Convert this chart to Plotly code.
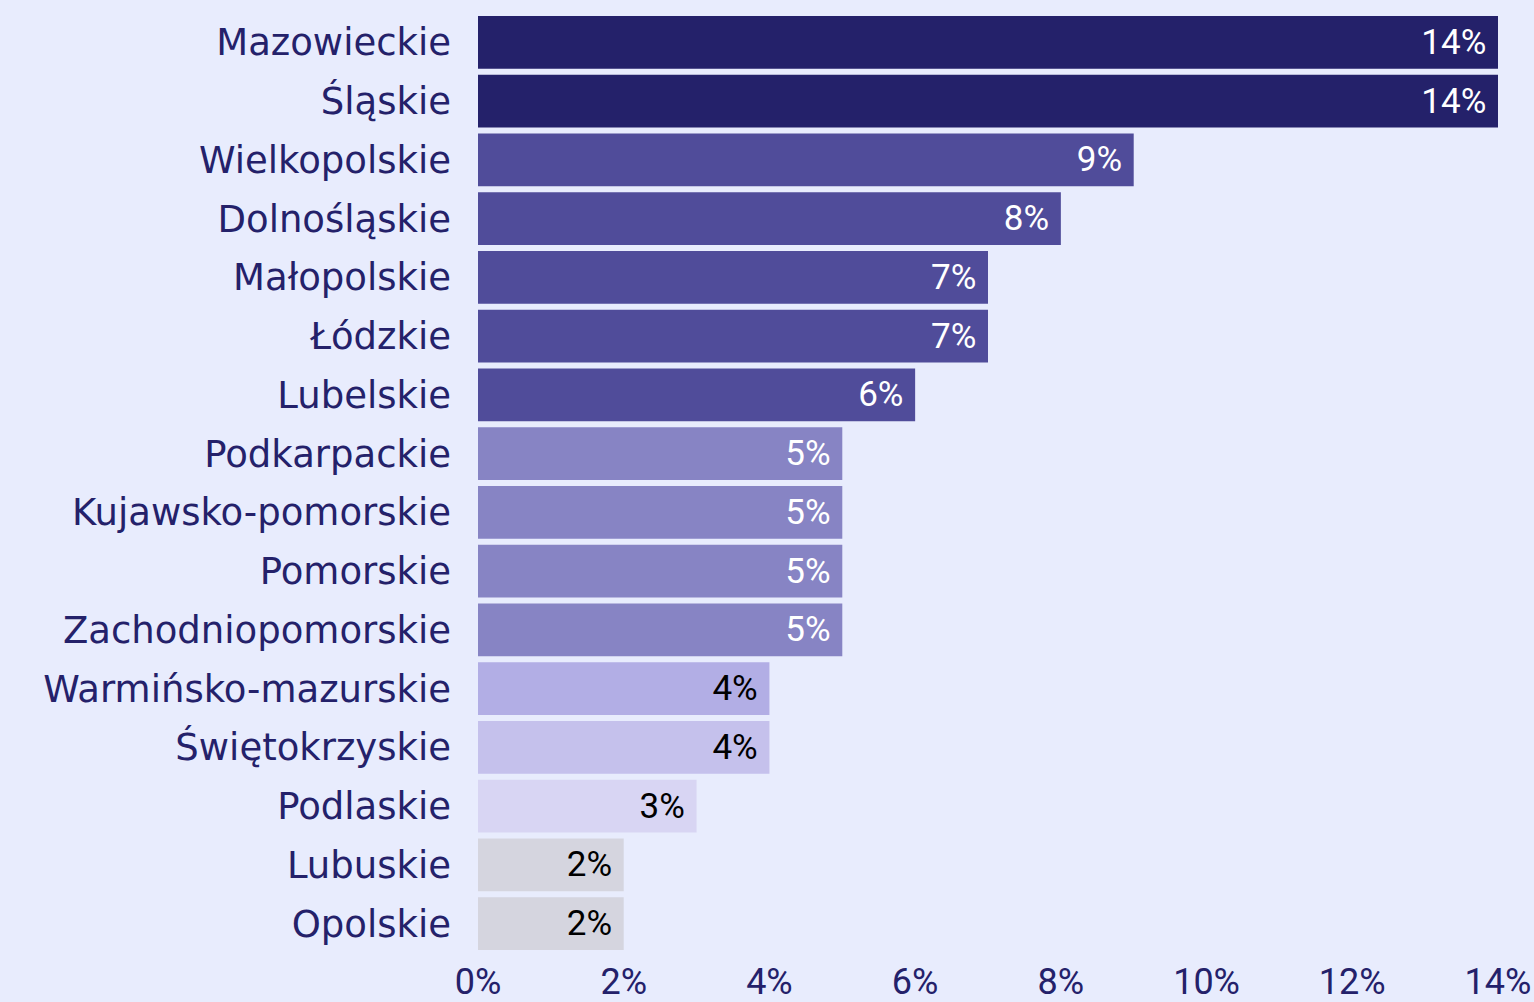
import plotly.graph_objects as go

regions = ["Mazowieckie", "Śląskie", "Wielkopolskie", "Dolnośląskie", "Małopolskie",
           "Łódzkie", "Lubelskie", "Podkarpackie", "Kujawsko-pomorskie", "Pomorskie",
           "Zachodniopomorskie", "Warmińsko-mazurskie", "Świętokrzyskie", "Podlaskie",
           "Lubuskie", "Opolskie"]
values = [14, 14, 9, 8, 7, 7, 6, 5, 5, 5, 5, 4, 4, 3, 2, 2]
bar_colors = ["#24216A", "#24216A", "#504C9A", "#504C9A", "#504C9A", "#504C9A", "#504C9A",
              "#8784C4", "#8784C4", "#8784C4", "#8784C4", "#B2AEE5", "#C5C1EC", "#D8D5F3",
              "#D5D5DF", "#D5D5DF"]
text_colors = ["white"] * 11 + ["black"] * 5
tick_vals = [0, 2, 4, 6, 8, 10, 12, 14]
tick_text = [f"{v}%" for v in tick_vals]

BG = "#E8ECFD"
NAVY = "#24216A"
LABEL_FONT = "DejaVu Sans"
NUM_FONT = "Roboto"

fig = go.Figure(go.Bar(
    x=values, y=regions, orientation="h",
    marker=dict(color=bar_colors, line=dict(width=0)),
    text=[f"{v}%\u00a0" for v in values],
    textposition="inside", insidetextanchor="end",
    textfont=dict(color=text_colors, size=35, family=NUM_FONT),
    constraintext="none",
    hoverinfo="skip",
))

fig.update_layout(
    width=1534, height=1002,
    paper_bgcolor=BG, plot_bgcolor=BG,
    margin=dict(l=478, r=36, t=13, b=49, autoexpand=False),
    bargap=0.1,
    showlegend=False,
    font=dict(family=LABEL_FONT, color=NAVY, size=37),
)
fig.update_xaxes(range=[0, 14], tickvals=tick_vals, ticktext=tick_text,
                 showgrid=False, zeroline=False, showline=False,
                 tickfont=dict(size=36, color=NAVY, family=NUM_FONT), ticks="",
                 ticklabelstandoff=4)
fig.update_yaxes(autorange="reversed", showgrid=False, zeroline=False, showline=False,
                 tickfont=dict(size=37, color=NAVY, family=LABEL_FONT), ticks="",
                 ticklabelstandoff=26)

fig.write_html(
    "out.html",
    config={"displayModeBar": False},
    post_script="document.body.style.margin='0';document.body.style.background='%s';"
                "document.body.style.overflow='hidden';" % BG,
)
